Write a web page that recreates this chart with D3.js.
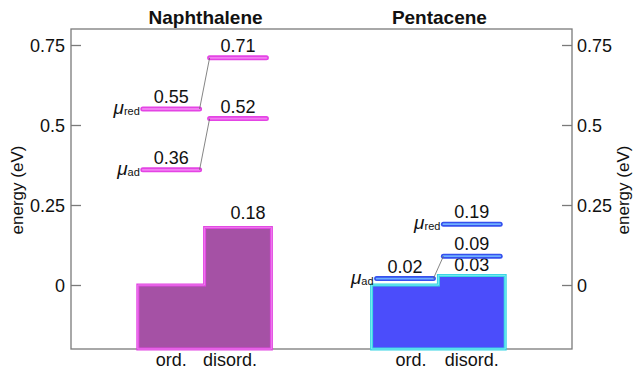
<!DOCTYPE html>
<html>
<head>
<meta charset="utf-8">
<script src="https://cdn.jsdelivr.net/npm/d3@7"></script>
<style>
  body { margin: 0; background: #fff; }
  svg { display: block; font-family: "Liberation Sans", Arial, sans-serif; }
</style>
</head>
<body>
<svg id="chart" width="635" height="371"></svg>
<script>
// Energy levels and barrier heights for the two crystals
const groups = ["Naphthalene", "Pentacene"];
const phases = ["ord.", "disord."];
const barValues = [[0, 0.18], [0, 0.03]];      // step bars (ord., disord.)
const muAd = [[0.36, 0.52], [0.02, 0.09]];     // μ_ad levels
const muRed = [[0.55, 0.71], [null, 0.19]];    // μ_red levels
const yTicks = [0, 0.25, 0.5, 0.75];
const yTickLabels = ["0", "0.25", "0.5", "0.75"];

const styles = [
  { fill: "#a551a5", edge: "#e245e2", edgeIn: "#f08af0", lvl: "#e444e4", lvlIn: "#f27df2" },
  { fill: "#4b4dfb", edge: "#35d4e4", edgeIn: "#8cf0f4", lvl: "#3550ee", lvlIn: "#6fb0ff" }
];

const svg = d3.select("#chart");
const plotL = 71, plotR = 572, plotT = 29, plotB = 349;

const x = d3.scaleLinear().domain([0, 7.5]).range([plotL, plotR]);
const y = d3.scaleLinear().domain([-0.2, 0.8]).range([plotB, plotT]);
const groupStart = [1, 4.5];
const slot = (g, p) => groupStart[g] + p;

// frame
svg.append("rect")
  .attr("x", plotL).attr("y", plotT)
  .attr("width", plotR - plotL).attr("height", plotB - plotT)
  .attr("fill", "none").attr("stroke", "#7a7a7a").attr("stroke-width", 1.3);

// axes (ticks pointing inward)
const axL = svg.append("g").attr("transform", `translate(${plotL},0)`)
  .call(d3.axisRight(y).tickValues(yTicks).tickSize(10).tickFormat((d, i) => yTickLabels[i]));
const axR = svg.append("g").attr("transform", `translate(${plotR},0)`)
  .call(d3.axisLeft(y).tickValues(yTicks).tickSize(10).tickFormat((d, i) => yTickLabels[i]));
[axL, axR].forEach(a => {
  a.select(".domain").remove();
  a.selectAll(".tick line").attr("stroke", "#7a7a7a").attr("stroke-width", 1.3);
  a.selectAll(".tick text").attr("font-size", 18).attr("fill", "#111")
    .attr("font-family", "Liberation Sans, Arial, sans-serif");
});
axL.selectAll(".tick text").attr("x", -6).attr("text-anchor", "end").attr("dy", "0.35em");
axR.selectAll(".tick text").attr("x", 5).attr("text-anchor", "start").attr("dy", "0.35em");

// axis titles
[[17, 190], [623, 190]].forEach(([tx, ty]) => {
  svg.append("text")
    .attr("transform", `translate(${tx},${ty}) rotate(-90)`)
    .attr("text-anchor", "middle").attr("dy", "0.35em")
    .attr("font-size", 17).attr("fill", "#111")
    .text("energy (eV)");
});

// group titles
groups.forEach((name, g) => {
  svg.append("text")
    .attr("x", x(slot(g, 1)) + 1).attr("y", 24)
    .attr("text-anchor", "middle")
    .attr("font-size", 19).attr("font-weight", "bold").attr("fill", "#111")
    .text(name);
});

// step bars
groups.forEach((name, g) => {
  const [v0, v1] = barValues[g];
  const x0 = x(slot(g, 0)), x1 = x(slot(g, 1)), x2 = x(slot(g, 2));
  const yb = y(-0.2);
  const pts = [[x0, yb], [x0, y(v0)], [x1, y(v0)], [x1, y(v1)], [x2, y(v1)], [x2, yb]];
  const path = d3.line()(pts) + "Z";
  svg.append("path").attr("d", path).attr("fill", styles[g].fill)
    .attr("stroke", styles[g].edge).attr("stroke-width", 3).attr("stroke-linejoin", "miter");
  svg.append("path").attr("d", path).attr("fill", "none")
    .attr("stroke", styles[g].edgeIn).attr("stroke-width", 0.8);
});

// bar value labels
const barLabelDx = [10, 0], barLabelDy = [-8, -4];
groups.forEach((name, g) => {
  svg.append("text")
    .attr("x", x(slot(g, 1.5)) + barLabelDx[g]).attr("y", y(barValues[g][1]) + barLabelDy[g])
    .attr("text-anchor", "middle").attr("font-size", 18).attr("fill", "#111")
    .text(barValues[g][1].toFixed(2));
});

// energy levels
const inset = 0.075;
function level(g, p, v) {
  const xa = x(slot(g, p) + inset), xb = x(slot(g, p + 1) - inset), yy = y(v);
  svg.append("line").attr("x1", xa).attr("x2", xb).attr("y1", yy).attr("y2", yy)
    .attr("stroke", styles[g].lvl).attr("stroke-width", 5).attr("stroke-linecap", "round");
  svg.append("line").attr("x1", xa).attr("x2", xb).attr("y1", yy).attr("y2", yy)
    .attr("stroke", styles[g].lvlIn).attr("stroke-width", 1.8).attr("stroke-linecap", "round");
  svg.append("text").attr("x", (xa + xb) / 2).attr("y", yy - 6)
    .attr("text-anchor", "middle").attr("font-size", 18).attr("fill", "#111")
    .text(v.toFixed(2));
  return [xa, xb, yy];
}
function muLabel(xr, yy, sub) {
  const t = svg.append("text").attr("x", xr).attr("y", yy + 5)
    .attr("text-anchor", "end").attr("fill", "#111");
  t.append("tspan").attr("font-size", 19).attr("font-style", "italic").text("μ");
  t.append("tspan").attr("font-size", 11).attr("dy", 1).text(sub);
}
function connector(a, b) {
  svg.append("line").attr("x1", a[1]).attr("y1", a[2]).attr("x2", b[0]).attr("y2", b[2])
    .attr("stroke", "#666").attr("stroke-width", 0.8);
}

[muAd, muRed].forEach((series, s) => {
  const sub = s === 0 ? "ad" : "red";
  groups.forEach((name, g) => {
    const segs = series[g].map((v, p) => v == null ? null : level(g, p, v));
    if (segs[0] && segs[1]) connector(segs[0], segs[1]);
    const first = segs.find(d => d);
    muLabel(first[0] - 3, first[2], sub);
  });
});

// phase labels
const phaseDx = [[0, -8], [6, 0]];
groups.forEach((name, g) => {
  phases.forEach((ph, p) => {
    svg.append("text")
      .attr("x", x(slot(g, p + 0.5)) + phaseDx[g][p]).attr("y", 366)
      .attr("text-anchor", "middle").attr("font-size", 18).attr("fill", "#111")
      .text(ph);
  });
});
</script>
</body>
</html>
